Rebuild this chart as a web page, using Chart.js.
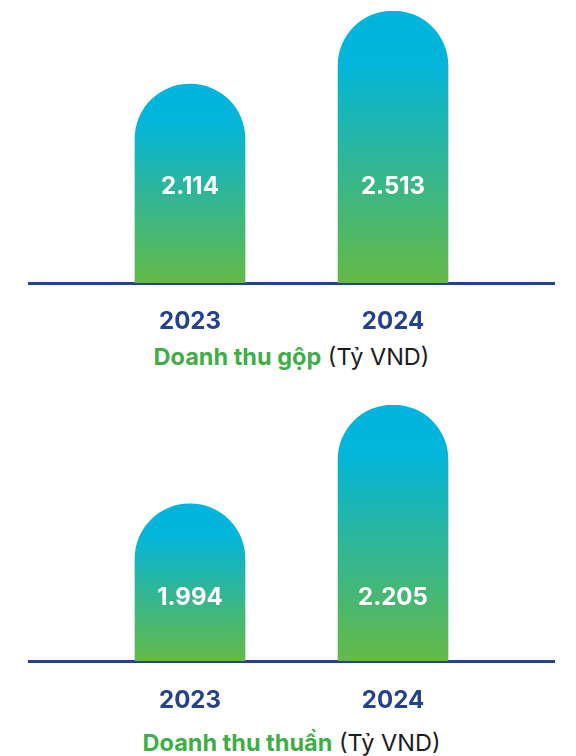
<!DOCTYPE html>
<html>
<head>
<meta charset="utf-8">
<script src="https://cdn.jsdelivr.net/npm/chart.js@4/dist/chart.umd.min.js"></script>
<style>
    html, body { margin: 0; padding: 0; background: #fff; }
    body { width: 576px; height: 756px; position: relative; overflow: hidden; font-family: Inter, "Noto Sans", sans-serif; }
    .box { position: absolute; left: 0; width: 576px; height: 340px; }
    .title { position: absolute; left: 29px; width: 525px; text-align: center; font-size: 23.5px; line-height: 28px; color: #1c1c1c; }
    .title b { color: #3fae49; font-weight: 700; }
</style>
</head>
<body>
<div class="box" style="top:0"><canvas id="grossChart"></canvas></div>
<div class="title" style="top:343px"><b>Doanh thu gộp</b> (Tỷ VND)</div>
<div class="box" style="top:378px"><canvas id="netChart"></canvas></div>
<div class="title" style="top:729px"><b>Doanh thu thuần</b> (Tỷ VND)</div>

<script>
// ============ Data ============
const years = ['2023', '2024'];
const grossRevenue = [2114, 2513];   // Doanh thu gộp (Tỷ VND)
const netRevenue = [1994, 2205];     // Doanh thu thuần (Tỷ VND)
const grossRange = [1027, 2513];
const netRange = [1659, 2205];

const NAVY = '#26418d';

// 2114 -> "2.114"
const fmt = (v) => String(v).replace(/\B(?=(\d{3})+(?!\d))/g, '.');

// value text in white inside each bar
const valueLabels = {
    id: 'valueLabels',
    afterDatasetsDraw(chart, args, opts) {
        const { ctx, chartArea } = chart;
        const meta = chart.getDatasetMeta(0);
        ctx.save();
        ctx.fillStyle = '#fff';
        ctx.font = 'bold 24px Inter, "Noto Sans", sans-serif';
        ctx.textAlign = 'center';
        ctx.textBaseline = 'middle';
        meta.data.forEach((bar, i) => {
            ctx.fillText(fmt(chart.data.datasets[0].data[i].y), bar.x, chartArea.bottom - opts.lift);
        });
        ctx.restore();
    }
};

function makeChart(id, values, range, padTop, tickPad, lift) {
    return new Chart(document.getElementById(id), {
        type: 'bar',
        data: {
            datasets: [{
                data: values.map((v, i) => ({ x: i, y: v })),
                barThickness: 110,
                borderRadius: 60,
                borderSkipped: 'start',
                backgroundColor: (c) => {
                    const area = c.chart.chartArea;
                    if (!area || !c.chart.scales.y) return '#2fb697';
                    const top = c.chart.scales.y.getPixelForValue(values[c.dataIndex]);
                    const g = c.chart.ctx.createLinearGradient(0, top, 0, area.bottom);
                    g.addColorStop(0, '#00b4de');
                    g.addColorStop(0.2, '#03b5d8');
                    g.addColorStop(0.55, '#2fb697');
                    g.addColorStop(1, '#65b947');
                    return g;
                }
            }]
        },
        options: {
            responsive: true,
            maintainAspectRatio: false,
            animation: false,
            layout: { padding: { top: padTop, left: 29, right: 22, bottom: 0 } },
            plugins: {
                legend: { display: false },
                tooltip: { enabled: false },
                valueLabels: { lift: lift }
            },
            scales: {
                x: {
                    type: 'linear',
                    offset: false,
                    bounds: 'data',
                    min: -0.793,
                    max: 1.793,
                    afterBuildTicks: (axis) => { axis.ticks = years.map((_, i) => ({ value: i })); },
                    afterFit: (axis) => { axis.height = 57; },
                    ticks: {
                        callback: (v) => years[v],
                        color: NAVY,
                        padding: tickPad,
                        maxRotation: 0,
                        minRotation: 0,
                        autoSkip: false,
                        font: { family: 'Inter', size: 24, weight: 'bold' }
                    },
                    grid: { display: false, drawTicks: false, offset: false },
                    border: { display: true, color: NAVY, width: 3 }
                },
                y: {
                    display: false,
                    min: range[0],
                    max: range[1]
                }
            }
        },
        plugins: [valueLabels]
    });
}

makeChart('grossChart', grossRevenue, grossRange, 11, 24, 96);
makeChart('netChart', netRevenue, netRange, 27, 25, 63);
</script>
</body>
</html>
